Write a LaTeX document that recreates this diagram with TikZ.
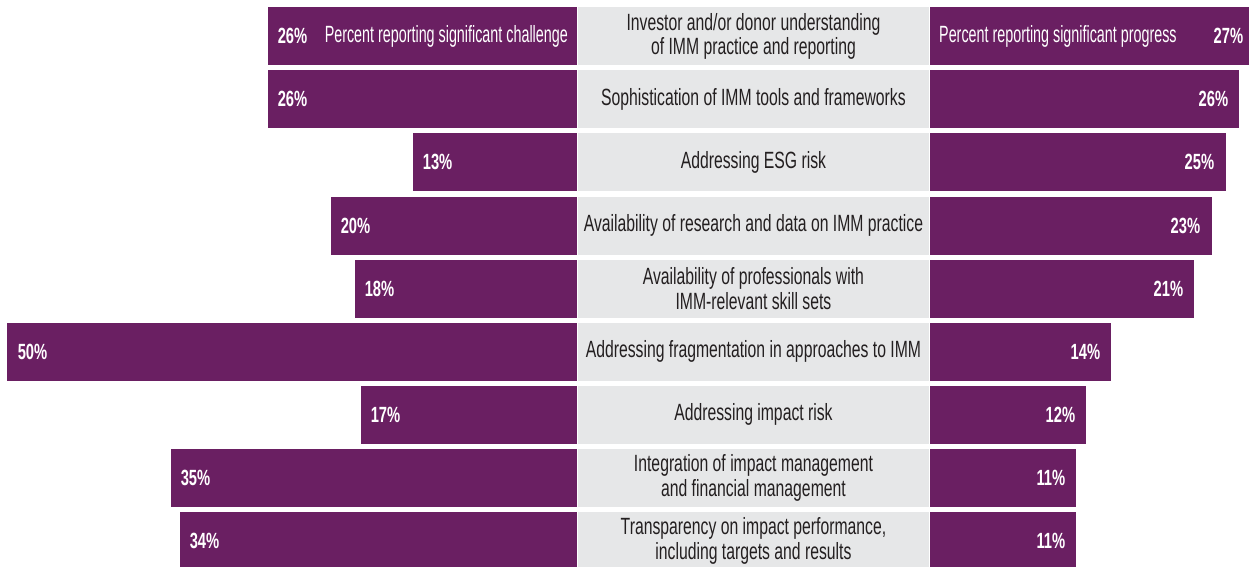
\documentclass[tikz,border=0pt]{standalone}
\usepackage{fontspec}
\setmainfont{Liberation Sans}
\newfontfamily\condfont[FakeStretch=0.67]{Liberation Sans}
\newfontfamily\keyfont[FakeStretch=0.61]{Liberation Sans}
\definecolor{immpurple}{RGB}{106,31,98}
\definecolor{immgray}{RGB}{230,231,232}
\definecolor{immtext}{RGB}{35,31,32}
\tikzset{
    chalbar/.style={fill=immpurple, inner sep=0pt, minimum height=58pt, anchor=north east},
    progbar/.style={fill=immpurple, inner sep=0pt, minimum height=58pt, anchor=north west},
    topicbox/.style={fill=immgray, inner sep=0pt, minimum height=58pt, minimum width=350.5pt,
        anchor=north west, align=center, text=immtext, font=\condfont\fontsize{23.5}{24.3}\selectfont},
    pctlabel/.style={inner sep=0pt, text=white, font=\condfont\bfseries\fontsize{22}{22}\selectfont},
    keylabel/.style={inner sep=0pt, text=white, font=\keyfont\fontsize{23.5}{24}\selectfont},
}

\begin{document}
\begin{tikzpicture}[x=1pt, y=-1pt]
    \useasboundingbox (0,0) rectangle (1256,567);

    \node[chalbar, minimum width=309pt] (chal1) at (577,7) {};
    \node[topicbox] (topic1) at (578,7) {Investor and/or donor understanding\\of IMM practice and reporting};
    \node[progbar, minimum width=319.5pt] (prog1) at (929.5,7) {};
    \node[pctlabel, anchor=west] (chalpct1) at ([xshift=10pt]chal1.west) {26\%};
    \node[pctlabel, anchor=east] (progpct1) at ([xshift=-6pt]prog1.east) {27\%};
    \node[keylabel, anchor=east] (chalkey) at ([xshift=-9pt]chal1.east) {Percent reporting significant challenge};
    \node[keylabel, anchor=west] (progkey) at ([xshift=9.5pt]prog1.west) {Percent reporting significant progress};

    \node[chalbar, minimum width=309pt] (chal2) at (577,70.1) {};
    \node[topicbox] (topic2) at (578,70.1) {Sophistication of IMM tools and frameworks};
    \node[progbar, minimum width=309.5pt] (prog2) at (929.5,70.1) {};
    \node[pctlabel, anchor=west] (chalpct2) at ([xshift=10pt]chal2.west) {26\%};
    \node[pctlabel, anchor=east] (progpct2) at ([xshift=-11pt]prog2.east) {26\%};

    \node[chalbar, minimum width=164pt] (chal3) at (577,133.2) {};
    \node[topicbox] (topic3) at (578,133.2) {Addressing ESG risk};
    \node[progbar, minimum width=296.5pt] (prog3) at (929.5,133.2) {};
    \node[pctlabel, anchor=west] (chalpct3) at ([xshift=10pt]chal3.west) {13\%};
    \node[pctlabel, anchor=east] (progpct3) at ([xshift=-12pt]prog3.east) {25\%};

    \node[chalbar, minimum width=246pt] (chal4) at (577,196.3) {};
    \node[topicbox] (topic4) at (578,196.3) {Availability of research and data on IMM practice};
    \node[progbar, minimum width=282.5pt] (prog4) at (929.5,196.3) {};
    \node[pctlabel, anchor=west] (chalpct4) at ([xshift=10pt]chal4.west) {20\%};
    \node[pctlabel, anchor=east] (progpct4) at ([xshift=-12pt]prog4.east) {23\%};

    \node[chalbar, minimum width=222pt] (chal5) at (577,259.4) {};
    \node[topicbox] (topic5) at (578,259.4) {Availability of professionals with\\IMM-relevant skill sets};
    \node[progbar, minimum width=264.5pt] (prog5) at (929.5,259.4) {};
    \node[pctlabel, anchor=west] (chalpct5) at ([xshift=10pt]chal5.west) {18\%};
    \node[pctlabel, anchor=east] (progpct5) at ([xshift=-11pt]prog5.east) {21\%};

    \node[chalbar, minimum width=570pt] (chal6) at (577,322.5) {};
    \node[topicbox] (topic6) at (578,322.5) {Addressing fragmentation in approaches to IMM};
    \node[progbar, minimum width=181.5pt] (prog6) at (929.5,322.5) {};
    \node[pctlabel, anchor=west] (chalpct6) at ([xshift=11pt]chal6.west) {50\%};
    \node[pctlabel, anchor=east] (progpct6) at ([xshift=-11pt]prog6.east) {14\%};

    \node[chalbar, minimum width=216pt] (chal7) at (577,385.6) {};
    \node[topicbox] (topic7) at (578,385.6) {Addressing impact risk};
    \node[progbar, minimum width=156.5pt] (prog7) at (929.5,385.6) {};
    \node[pctlabel, anchor=west] (chalpct7) at ([xshift=10pt]chal7.west) {17\%};
    \node[pctlabel, anchor=east] (progpct7) at ([xshift=-11pt]prog7.east) {12\%};

    \node[chalbar, minimum width=406pt] (chal8) at (577,448.7) {};
    \node[topicbox] (topic8) at (578,448.7) {Integration of impact management\\and financial management};
    \node[progbar, minimum width=146.5pt] (prog8) at (929.5,448.7) {};
    \node[pctlabel, anchor=west] (chalpct8) at ([xshift=10pt]chal8.west) {35\%};
    \node[pctlabel, anchor=east] (progpct8) at ([xshift=-11pt]prog8.east) {11\%};

    \node[chalbar, minimum width=397pt] (chal9) at (577,511.8) {};
    \node[topicbox] (topic9) at (578,511.8) {Transparency on impact performance,\\including targets and results};
    \node[progbar, minimum width=146.5pt] (prog9) at (929.5,511.8) {};
    \node[pctlabel, anchor=west] (chalpct9) at ([xshift=10pt]chal9.west) {34\%};
    \node[pctlabel, anchor=east] (progpct9) at ([xshift=-11pt]prog9.east) {11\%};

\end{tikzpicture}
\end{document}
